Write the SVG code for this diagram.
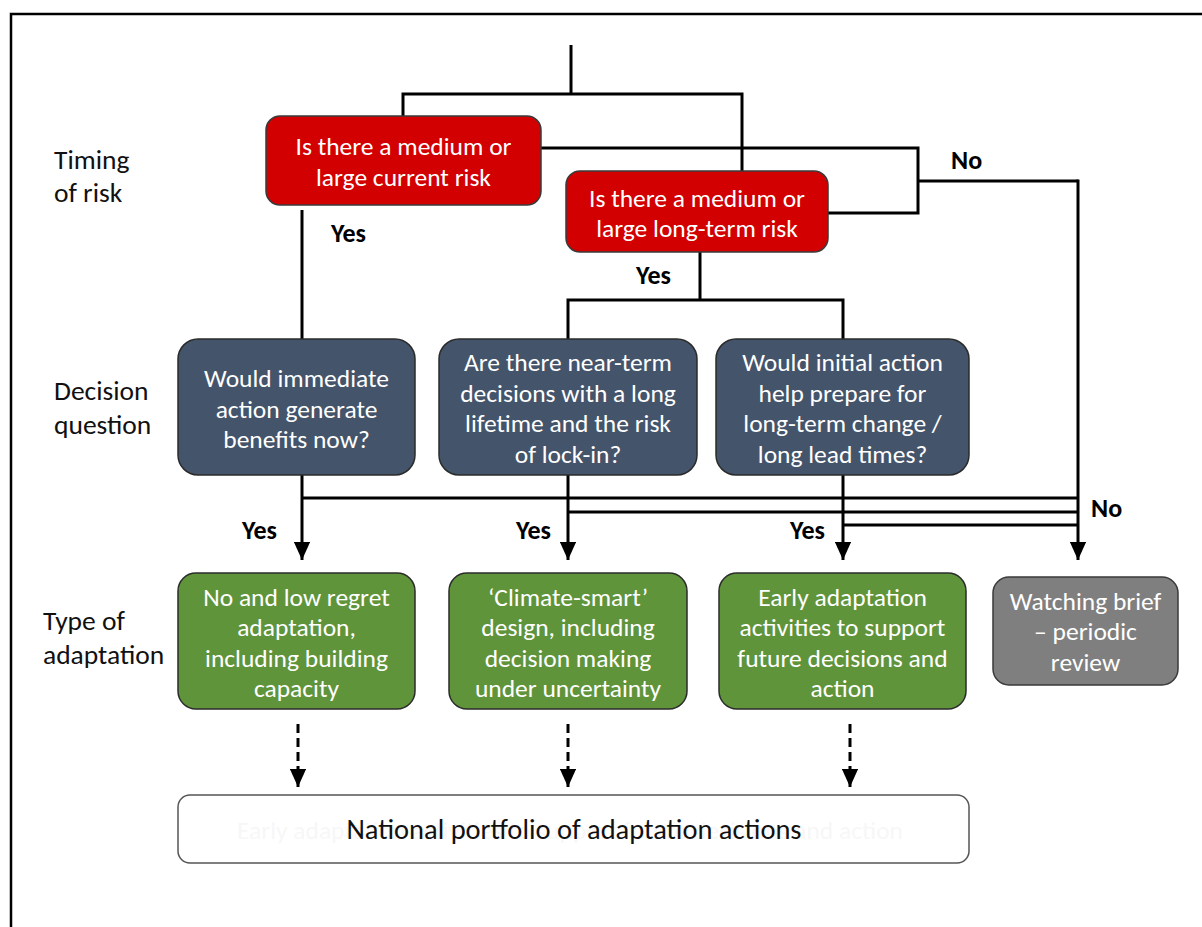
<svg xmlns="http://www.w3.org/2000/svg" width="1202" height="927" viewBox="0 0 1202 927">
  <style>
    .lbl { font-family: Carlito, Lato, "Open Sans", sans-serif; font-size: 27.5px; fill: #111; }
    .box-t { font-family: Carlito, Lato, "Open Sans", sans-serif; font-size: 25.5px; fill: #ffffff; text-anchor: middle; }
    .yn { font-family: Carlito, Lato, "Liberation Sans", sans-serif; font-size: 26px; font-weight: bold; fill: #000; }
    .red { fill: #d20000; stroke: #3a3a3a; stroke-width: 1.5; }
    .blue { fill: #44546a; stroke: #2b2b2b; stroke-width: 1.5; }
    .green { fill: #5f943b; stroke: #2b2b2b; stroke-width: 1.5; }
    .grey { fill: #7f7f7f; stroke: #3a3a3a; stroke-width: 1.5; }
    .white { fill: #ffffff; stroke: #555; stroke-width: 1.5; }
    .wire { fill: none; stroke: #000; stroke-width: 3; }
    .dash { fill: none; stroke: #000; stroke-width: 3; stroke-dasharray: 9 5; }
  </style>
  <defs>
    <marker id="arr" viewBox="0 0 10 10" refX="10" refY="5" markerWidth="6" markerHeight="5.4" markerUnits="strokeWidth" orient="auto" preserveAspectRatio="none">
      <path d="M0,0 L10,5 L0,10 z" fill="#000"/>
    </marker>
  </defs>

  <!-- frame -->
  <path d="M11,927 V14 H1202" fill="none" stroke="#000" stroke-width="2.5"/>

  <!-- row labels -->
  <g id="row-labels">
    <text class="lbl" x="54" y="169">Timing</text>
    <text class="lbl" x="54" y="202">of risk</text>
    <text class="lbl" x="54" y="400">Decision</text>
    <text class="lbl" x="54" y="434">question</text>
    <text class="lbl" x="43" y="630">Type of</text>
    <text class="lbl" x="43" y="664">adaptation</text>
  </g>

  <!-- connectors -->
  <g id="connectors">
    <path class="wire" d="M571,45 V94 M403,94 H742 M403,92.5 V117 M742,92.5 V171"/>
    <path class="wire" d="M541,148 H918 V213 H828 M918,181 H1078"/>
    <path class="wire" d="M302,210 V340"/>
    <path class="wire" d="M700,252 V300 M566.5,300 H844.5 M568,300 V340 M843,300 V340"/>
    <path class="wire" d="M302,498 H1078 M568,512 H1078 M843,525 H1078"/>
    <path class="wire" d="M302,475 V560" marker-end="url(#arr)"/>
    <path class="wire" d="M568,475 V560" marker-end="url(#arr)"/>
    <path class="wire" d="M843,475 V560" marker-end="url(#arr)"/>
    <path class="wire" d="M1078,179.5 V560" marker-end="url(#arr)"/>
    <path class="dash" d="M298,724 V772"/>
    <path class="wire" d="M298,772 V787" marker-end="url(#arr)"/>
    <path class="dash" d="M568,724 V772"/>
    <path class="wire" d="M568,772 V787" marker-end="url(#arr)"/>
    <path class="dash" d="M850,724 V772"/>
    <path class="wire" d="M850,772 V787" marker-end="url(#arr)"/>
    <text class="yn" x="331" y="242">Yes</text>
    <text class="yn" x="636" y="284">Yes</text>
    <text class="yn" x="951" y="169">No</text>
    <text class="yn" x="242" y="539">Yes</text>
    <text class="yn" x="516" y="539">Yes</text>
    <text class="yn" x="790" y="539">Yes</text>
    <text class="yn" x="1091" y="517">No</text>
  </g>

  <!-- timing of risk -->
  <g id="current-risk">
    <rect class="red" x="266" y="116" width="275" height="89" rx="14"/>
    <text class="box-t" x="403.5" y="154.5">Is there a medium or</text>
    <text class="box-t" x="403.5" y="185.5">large current risk</text>
  </g>
  <g id="long-term-risk">
    <rect class="red" x="566" y="171" width="262" height="81" rx="14"/>
    <text class="box-t" x="697" y="206.5">Is there a medium or</text>
    <text class="box-t" x="697" y="236.5">large long-term risk</text>
  </g>

  <!-- decision questions -->
  <g id="q-immediate">
    <rect class="blue" x="178" y="339" width="237" height="136" rx="20"/>
    <text class="box-t" x="296.5" y="386.5">Would immediate</text>
    <text class="box-t" x="296.5" y="417.5">action generate</text>
    <text class="box-t" x="296.5" y="447.5">benefits now?</text>
  </g>
  <g id="q-lock-in">
    <rect class="blue" x="439" y="339" width="258" height="136" rx="20"/>
    <text class="box-t" x="568" y="370.5">Are there near-term</text>
    <text class="box-t" x="568" y="401.5">decisions with a long</text>
    <text class="box-t" x="568" y="431.5">lifetime and the risk</text>
    <text class="box-t" x="568" y="462.5">of lock-in?</text>
  </g>
  <g id="q-prepare">
    <rect class="blue" x="716" y="339" width="253" height="136" rx="20"/>
    <text class="box-t" x="842.5" y="370.5">Would initial action</text>
    <text class="box-t" x="842.5" y="401.5">help prepare for</text>
    <text class="box-t" x="842.5" y="431.5">long-term change /</text>
    <text class="box-t" x="842.5" y="462.5">long lead times?</text>
  </g>

  <!-- types of adaptation -->
  <g id="low-regret">
    <rect class="green" x="178" y="573" width="237" height="136" rx="18"/>
    <text class="box-t" x="296.5" y="605.5">No and low regret</text>
    <text class="box-t" x="296.5" y="635.5">adaptation,</text>
    <text class="box-t" x="296.5" y="666.5">including building</text>
    <text class="box-t" x="296.5" y="696.5">capacity</text>
  </g>
  <g id="climate-smart">
    <rect class="green" x="449" y="573" width="238" height="136" rx="18"/>
    <text class="box-t" x="568" y="605.5">‘Climate-smart’</text>
    <text class="box-t" x="568" y="635.5">design, including</text>
    <text class="box-t" x="568" y="666.5">decision making</text>
    <text class="box-t" x="568" y="696.5">under uncertainty</text>
  </g>
  <g id="early-adaptation">
    <rect class="green" x="719" y="573" width="247" height="136" rx="18"/>
    <text class="box-t" x="842.5" y="605.5">Early adaptation</text>
    <text class="box-t" x="842.5" y="635.5">activities to support</text>
    <text class="box-t" x="842.5" y="666.5">future decisions and</text>
    <text class="box-t" x="842.5" y="696.5">action</text>
  </g>
  <g id="watching-brief">
    <rect class="grey" x="993" y="577" width="185" height="108" rx="16"/>
    <text class="box-t" x="1085.5" y="609.5" fill="#f2f2f2">Watching brief</text>
    <text class="box-t" x="1085.5" y="639.5" fill="#f2f2f2">– periodic</text>
    <text class="box-t" x="1085.5" y="670.5" fill="#f2f2f2">review</text>
  </g>

  <!-- national portfolio -->
  <g id="portfolio">
    <rect class="white" x="178" y="795" width="791" height="68" rx="12"/>
    <text x="570" y="839" text-anchor="middle" font-family="Carlito, Lato, 'Open Sans', sans-serif" font-size="25" fill="#f7f7f7" textLength="666" lengthAdjust="spacingAndGlyphs">Early adaptation activities to support future decisions and action</text>
    <text x="574" y="839" text-anchor="middle" font-family="Carlito, Lato, 'Open Sans', sans-serif" font-size="28" fill="#111" textLength="455" lengthAdjust="spacingAndGlyphs">National portfolio of adaptation actions</text>
  </g>
</svg>
